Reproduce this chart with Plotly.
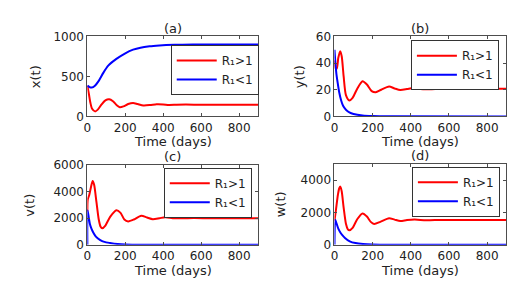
import plotly.graph_objects as go

# ---- data ----
ta_red = [0, 8, 16, 25, 40, 55, 75, 95, 115, 135, 155, 171, 190, 215, 241, 265, 295, 330, 365, 400, 430, 470, 520, 600, 700, 800, 900]
xa_red = [385, 280, 170, 95, 63, 85, 150, 200, 214, 190, 140, 115, 125, 155, 168, 155, 138, 142, 152, 150, 143, 146, 148, 146, 146, 146, 146]
ta_blue = [0, 10, 23, 40, 60, 84, 110, 153, 200, 241, 280, 328, 380, 415, 500, 600, 900]
xa_blue = [385, 368, 361, 385, 445, 545, 635, 720, 790, 835, 860, 877, 888, 893, 898, 900, 900]

tb_red = [0, 6, 12, 20, 30, 38, 48, 60, 78, 95, 120, 147, 170, 195, 216, 245, 286, 315, 345, 380, 410, 450, 500, 560, 650, 750, 900]
yb_red = [42, 36, 36, 44, 49, 45, 30, 16, 12, 14, 21, 26.4, 24, 19, 18.1, 20, 22.4, 21, 19.8, 20.5, 21.3, 20.5, 20.4, 20.8, 20.6, 20.7, 20.7]
tb_blue = [0, 5, 10, 17, 25, 35, 45, 60, 78, 100, 147, 200, 300, 900]
yb_blue = [50, 40, 32, 25, 18, 12, 8, 5, 3, 1.8, 0.7, 0.3, 0.1, 0]

tc_red = [0, 2, 10, 20, 28, 36, 48, 60, 70, 78, 95, 120, 153, 175, 195, 215, 245, 284, 315, 345, 380, 410, 450, 500, 560, 650, 900]
vc_red = [2500, 3400, 3750, 4400, 4800, 4500, 3200, 1900, 1350, 1240, 1450, 2100, 2595, 2400, 1900, 1760, 1900, 2190, 2050, 1930, 2000, 2070, 2000, 1990, 2010, 2000, 2000]
tc_blue = [0, 1, 8, 14, 22, 31, 45, 66, 90, 119, 160, 200, 300, 900]
vc_blue = [0, 2600, 2000, 1520, 1200, 930, 620, 380, 220, 140, 60, 25, 5, 0]

td_red = [0, 8, 18, 25, 31, 38, 48, 60, 70, 78, 95, 120, 147, 170, 190, 208, 240, 286, 315, 345, 380, 420, 480, 560, 650, 900]
wd_red = [1500, 2200, 3100, 3500, 3600, 3300, 2300, 1300, 960, 900, 1050, 1600, 1940, 1750, 1420, 1290, 1420, 1650, 1560, 1470, 1530, 1560, 1520, 1540, 1530, 1530]
td_blue = [0, 4, 10, 20, 30, 40, 55, 80, 110, 150, 200, 300, 900]
wd_blue = [0, 1550, 1350, 1000, 780, 620, 430, 220, 110, 50, 20, 5, 0]

x_ticks = [0, 200, 400, 600, 800]
panels = [
    dict(t_r=ta_red, v_r=xa_red, t_b=ta_blue, v_b=xa_blue, yr=[0, 1000], yt=[0, 500, 1000], ylab="x(t)", title="(a)"),
    dict(t_r=tb_red, v_r=yb_red, t_b=tb_blue, v_b=yb_blue, yr=[0, 60], yt=[0, 20, 40, 60], ylab="y(t)", title="(b)"),
    dict(t_r=tc_red, v_r=vc_red, t_b=tc_blue, v_b=vc_blue, yr=[0, 6000], yt=[0, 2000, 4000, 6000], ylab="v(t)", title="(c)"),
    dict(t_r=td_red, v_r=wd_red, t_b=td_blue, v_b=wd_blue, yr=[0, 5000], yt=[0, 2000, 4000], ylab="w(t)", title="(d)"),
]

W, H = 530, 288
# pixel boxes of plot areas: (left, right, top, bottom)
boxes = [(84, 256, 31, 115), (333, 506, 31, 115), (84, 256, 166, 250), (333, 506, 165, 250)]
legpos = [(168, 40), (410, 35), (161, 169), (411, 168)]
ylabx = [32, 298, 26, 279]
timey = [141, 141, 277, 277]

fig = go.Figure()
font = "DejaVu Sans, Arial, sans-serif"
axcol = "#4d4d4d"
layout = dict(width=W, height=H, margin=dict(l=0, r=0, t=0, b=0),
              paper_bgcolor="white", plot_bgcolor="white", showlegend=True,
              font=dict(family=font, size=12, color="#222"))
annotations = []
for i, p in enumerate(panels):
    k = i + 1
    xa = "x" if k == 1 else f"x{k}"
    ya = "y" if k == 1 else f"y{k}"
    lg = "legend" if k == 1 else f"legend{k}"
    fig.add_trace(go.Scatter(x=p["t_r"], y=p["v_r"], mode="lines", name="R₁>1",
                             line=dict(color="#ff0000", width=2, shape="spline", smoothing=0.7),
                             xaxis=xa, yaxis=ya, legend=lg))
    fig.add_trace(go.Scatter(x=p["t_b"], y=p["v_b"], mode="lines", name="R₁<1",
                             line=dict(color="#0000ff", width=2, shape="spline", smoothing=0.7),
                             xaxis=xa, yaxis=ya, legend=lg))
    l, r, t, b = boxes[i]
    axkw = dict(showline=True, linecolor=axcol, linewidth=1, mirror="ticks", ticks="inside",
                ticklen=3, tickcolor=axcol, showgrid=False, zeroline=False,
                tickfont=dict(family=font, size=12, color="#222"))
    layout["xaxis" if k == 1 else f"xaxis{k}"] = dict(
        domain=[l / W, r / W], range=[0, 900], tickvals=x_ticks, anchor=ya, **axkw)
    layout["yaxis" if k == 1 else f"yaxis{k}"] = dict(
        domain=[(H - b) / H, (H - t) / H], range=p["yr"], tickvals=p["yt"], anchor=xa, **axkw)
    lx, ly = legpos[i]
    layout[lg] = dict(x=lx / W, y=(H - ly) / H, xanchor="left", yanchor="top",
                      bgcolor="white", bordercolor="#333", borderwidth=1,
                      font=dict(family=font, size=12, color="#222"), itemwidth=40,
                      tracegroupgap=0)
    annotations.append(dict(text=p["title"], x=(l + r) / 2 / W, y=(H - t + 8.5) / H, xref="paper", yref="paper",
                            xanchor="center", yanchor="middle", showarrow=False,
                            font=dict(family=font, size=13, color="#222")))
    annotations.append(dict(text=p["ylab"], x=ylabx[i] / W, y=(H - (t + b) / 2) / H, xref="paper", yref="paper",
                            xanchor="center", yanchor="middle", showarrow=False, textangle=-90,
                            font=dict(family=font, size=13, color="#222")))
    annotations.append(dict(text="Time (days)", x=(l + r) / 2 / W, y=(H - timey[i]) / H, xref="paper", yref="paper",
                            xanchor="center", yanchor="middle", showarrow=False,
                            font=dict(family=font, size=13, color="#222")))
layout["annotations"] = annotations
fig.update_layout(**layout)
fig.write_html("out.html", config={"displayModeBar": False},
               post_script="document.body.style.margin='0';document.body.style.padding='0';")
